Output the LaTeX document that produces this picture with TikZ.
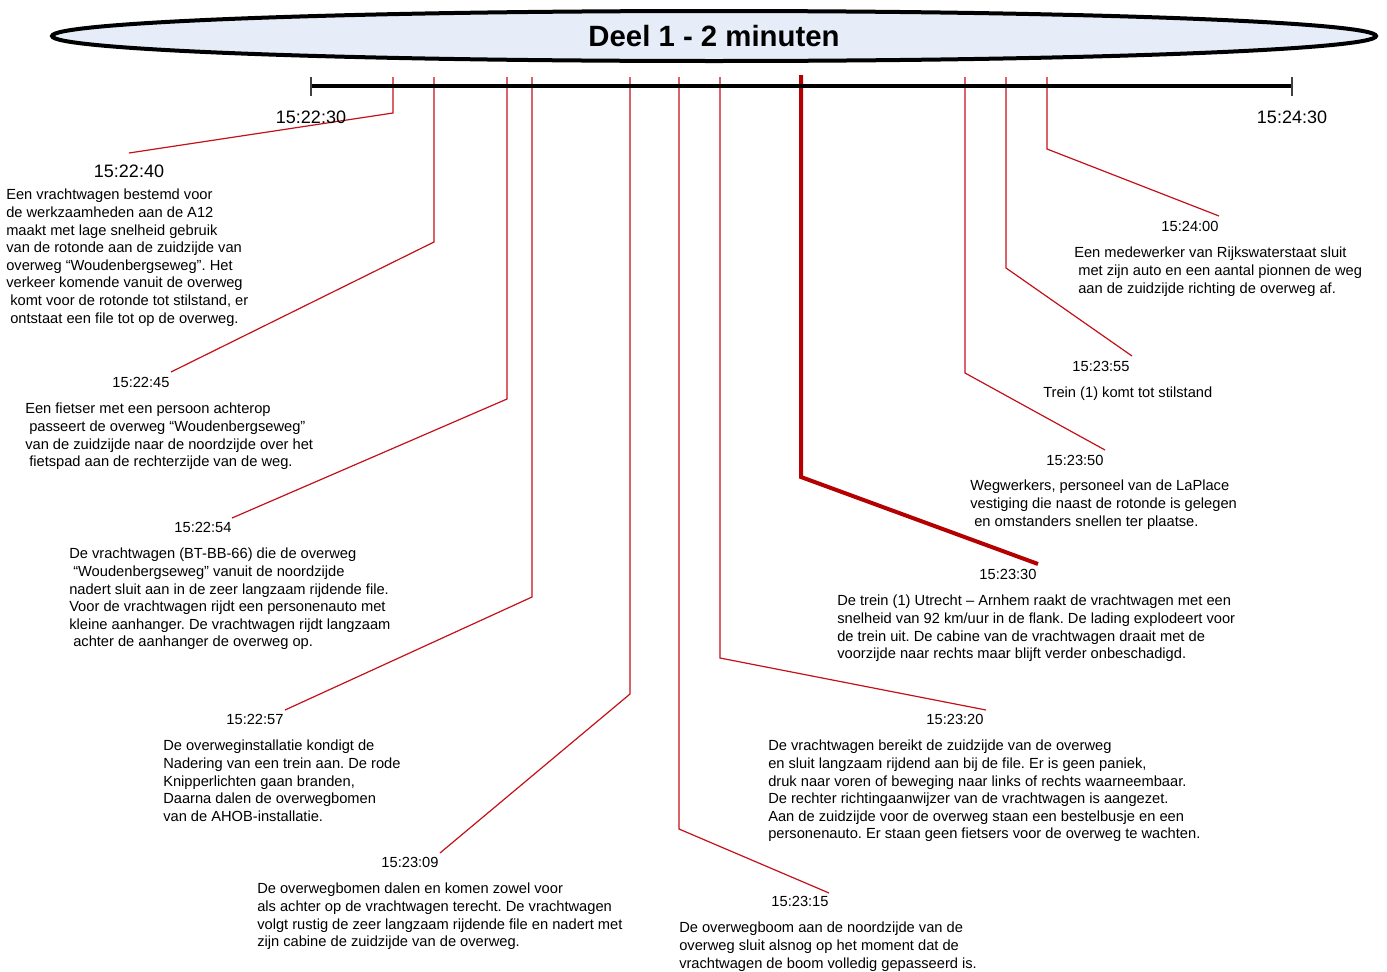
\documentclass[tikz,border=0pt]{standalone}
\usepackage{fontspec}
\setmainfont{Liberation Sans}
\usetikzlibrary{shapes.geometric}
\definecolor{lensfill}{RGB}{230,237,248}
\definecolor{leadred}{RGB}{196,16,24}
\definecolor{bigred}{RGB}{180,0,0}
\frenchspacing
\begin{document}
\begin{tikzpicture}[x=0.75pt,y=-0.75pt,
  leader/.style={draw=leadred, line width=0.9pt},
  bigleader/.style={draw=bigred, line width=3pt},
  endtick/.style={draw=black!75, line width=1pt},
  stamp/.style={font=\fontsize{11}{13.2}\selectfont, inner sep=0},
  bigstamp/.style={font=\fontsize{13.5}{16}\selectfont, inner sep=0},
  body/.style={font=\fontsize{11}{13.2}\selectfont\frenchspacing, align=left, anchor=north west, inner sep=0}]
\useasboundingbox (0,0) rectangle (1387,971);
\def\sp{\hspace*{3pt}}

% title lens
\node[draw, ellipse, line width=3pt, fill=lensfill, minimum width=993pt, minimum height=37.5pt,
      inner sep=0, font=\bfseries\fontsize{22}{26}\selectfont] (title) at (714,36) {Deel 1 - 2 minuten};

% leader coordinates
\coordinate (p1) at (393,77);  \coordinate (q1) at (393,113);  \coordinate (e1) at (129,153);
\coordinate (p2) at (434,77);  \coordinate (q2) at (434,242);  \coordinate (e2) at (171,372);
\coordinate (p3) at (507,77);  \coordinate (q3) at (507,399);  \coordinate (e3) at (232,518);
\coordinate (p4) at (532,77);  \coordinate (q4) at (532,597);  \coordinate (e4) at (285,710);
\coordinate (p5) at (630,77);  \coordinate (q5) at (630,694);  \coordinate (e5) at (440,853);
\coordinate (p6) at (679,77);  \coordinate (q6) at (679,829);  \coordinate (e6) at (829,893);
\coordinate (p7) at (720,77);  \coordinate (q7) at (720,658);  \coordinate (e7) at (986,710);
\coordinate (p8) at (801,75);  \coordinate (q8) at (801,477);  \coordinate (e8) at (1038,564);
\coordinate (p9) at (965,77);  \coordinate (q9) at (965,373);  \coordinate (e9) at (1105,450);
\coordinate (p10) at (1006,77); \coordinate (q10) at (1006,268); \coordinate (e10) at (1132,356);
\coordinate (p11) at (1047,77); \coordinate (q11) at (1047,149); \coordinate (e11) at (1219,216);

\foreach \i in {1,2,3,4,5,6,7,9,10,11}{\draw[leader] (p\i) -- (q\i) -- (e\i);}
\draw[bigleader] (p8) -- (q8) -- (e8);

% axis
\coordinate (ax0) at (311,86); \coordinate (ax1) at (1292,86);
\coordinate (ax0t) at (311,77); \coordinate (ax0b) at (311,96);
\coordinate (ax1t) at (1292,77); \coordinate (ax1b) at (1292,96);
\draw[line width=3pt] (ax0) -- (ax1);
\draw[endtick] (ax0t) -- (ax0b);
\draw[endtick] (ax1t) -- (ax1b);
\node[bigstamp] (start) at (311,117) {15:22:30};
\node[bigstamp] (stop) at (1292,117) {15:24:30};

% timestamps
\node[bigstamp] (l1) at (129,171) {15:22:40};
\node[stamp] (l2) at (141,382) {15:22:45};
\node[stamp] (l3) at (203,527) {15:22:54};
\node[stamp] (l4) at (255,719) {15:22:57};
\node[stamp] (l5) at (410,862) {15:23:09};
\node[stamp] (l6) at (800,901) {15:23:15};
\node[stamp] (l7) at (955,719) {15:23:20};
\node[stamp] (l8) at (1008,574) {15:23:30};
\node[stamp] (l9) at (1075,460) {15:23:50};
\node[stamp] (l10) at (1101,366) {15:23:55};
\node[stamp] (l11) at (1190,226) {15:24:00};

% descriptions
\node[body] (b1) at (6,189) {Een vrachtwagen bestemd voor\\de werkzaamheden aan de A12\\maakt met lage snelheid gebruik\\van de rotonde aan de zuidzijde van\\overweg “Woudenbergseweg”. Het\\verkeer komende vanuit de overweg\\\sp komt voor de rotonde tot stilstand, er\\\sp ontstaat een file tot op de overweg.};
\node[body] (b2) at (25,403) {Een fietser met een persoon achterop\\\sp passeert de overweg “Woudenbergseweg”\\van de zuidzijde naar de noordzijde over het\\\sp fietspad aan de rechterzijde van de weg.};
\node[body] (b3) at (69,548) {De vrachtwagen (BT-BB-66) die de overweg\\\sp “Woudenbergseweg” vanuit de noordzijde\\nadert sluit aan in de zeer langzaam rijdende file.\\Voor de vrachtwagen rijdt een personenauto met\\kleine aanhanger. De vrachtwagen rijdt langzaam\\\sp achter de aanhanger de overweg op.};
\node[body] (b4) at (163,740) {De overweginstallatie kondigt de\\Nadering van een trein aan. De rode\\Knipperlichten gaan branden,\\Daarna dalen de overwegbomen\\van de AHOB-installatie.};
\node[body] (b5) at (257,883) {De overwegbomen dalen en komen zowel voor\\als achter op de vrachtwagen terecht. De vrachtwagen\\volgt rustig de zeer langzaam rijdende file en nadert met\\zijn cabine de zuidzijde van de overweg.};
\node[body] (b6) at (679,922) {De overwegboom aan de noordzijde van de\\overweg sluit alsnog op het moment dat de\\vrachtwagen de boom volledig gepasseerd is.};
\node[body] (b7) at (768,740) {De vrachtwagen bereikt de zuidzijde van de overweg\\en sluit langzaam rijdend aan bij de file. Er is geen paniek,\\druk naar voren of beweging naar links of rechts waarneembaar.\\De rechter richtingaanwijzer van de vrachtwagen is aangezet.\\Aan de zuidzijde voor de overweg staan een bestelbusje en een\\personenauto. Er staan geen fietsers voor de overweg te wachten.};
\node[body] (b8) at (837,595) {De trein (1) Utrecht – Arnhem raakt de vrachtwagen met een\\snelheid van 92 km/uur in de flank. De lading explodeert voor\\de trein uit. De cabine van de vrachtwagen draait met de\\voorzijde naar rechts maar blijft verder onbeschadigd.};
\node[body] (b9) at (970,480) {Wegwerkers, personeel van de LaPlace\\vestiging die naast de rotonde is gelegen\\\sp en omstanders snellen ter plaatse.};
\node[body] (b10) at (1043,387) {Trein (1) komt tot stilstand};
\node[body] (b11) at (1074,247) {Een medewerker van Rijkswaterstaat sluit\\\sp met zijn auto en een aantal pionnen de weg\\\sp aan de zuidzijde richting de overweg af.};
\end{tikzpicture}
\end{document}
